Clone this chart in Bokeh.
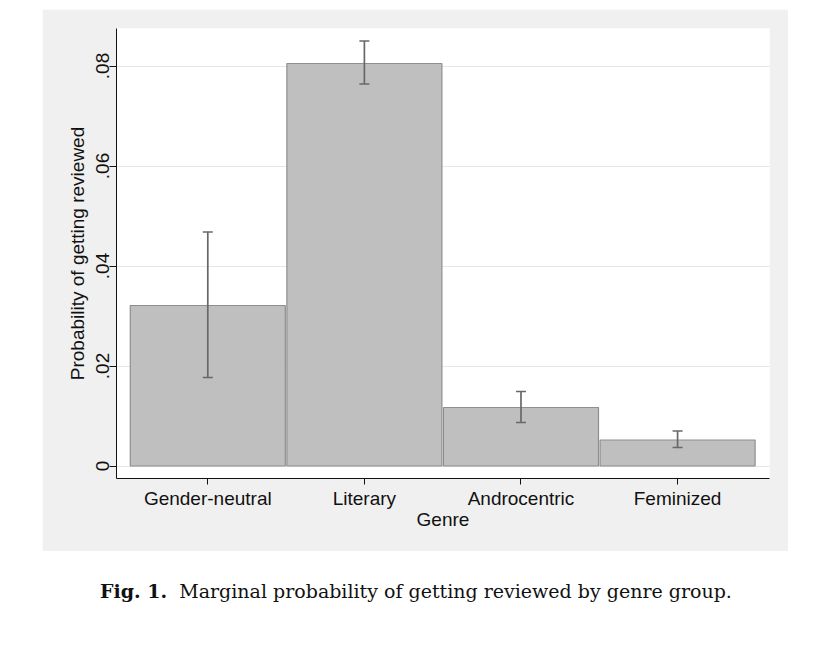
from bokeh.plotting import figure
from bokeh.models import ColumnDataSource, Whisker, TeeHead, FixedTicker, Range1d, Div, Spacer
from bokeh.layouts import column, row
from bokeh.embed import file_html
from bokeh.resources import INLINE

# ---- data ----
genres = ["Gender-neutral", "Literary", "Androcentric", "Feminized"]
prob = [0.0321, 0.0805, 0.0117, 0.0052]
ci_low = [0.0177, 0.0764, 0.0087, 0.0037]
ci_high = [0.0468, 0.0850, 0.0149, 0.0070]
y_ticks = [0, 0.02, 0.04, 0.06, 0.08]
y_tick_labels = ["0", ".02", ".04", ".06", ".08"]
x_label = "Genre"
y_label = "Probability of getting reviewed"
caption_bold = "Fig. 1."
caption_text = "Marginal probability of getting reviewed by genre group."

xpos = list(range(1, len(genres) + 1))
src = ColumnDataSource(dict(x=xpos, top=prob, lower=ci_low, upper=ci_high))

FONT = "Liberation Sans"
FS = "19px"

p = figure(width=746, height=542, output_backend="svg", toolbar_location=None,
           x_range=Range1d(0.417, 4.587), y_range=Range1d(-0.0025, 0.0875),
           min_border_left=74, min_border_right=19, min_border_top=19, min_border_bottom=73)
p.background_fill_color = "white"
p.border_fill_color = "#f0f0f0"
p.outline_line_color = None

p.vbar(x="x", top="top", bottom=0, width=0.99, source=src,
       fill_color="#bfbfbf", line_color="#8e8e8e", line_width=1.2)

w = Whisker(base="x", lower="lower", upper="upper", source=src,
            line_color="#686868", line_width=1.7, level="overlay",
            upper_head=TeeHead(size=10, line_color="#686868", line_width=1.7),
            lower_head=TeeHead(size=10, line_color="#686868", line_width=1.7))
p.add_layout(w)

# grid
p.xgrid.grid_line_color = None
p.ygrid.ticker = FixedTicker(ticks=y_ticks)
p.ygrid.grid_line_color = "#e6e6e6"
p.ygrid.grid_line_width = 1

# x axis
p.xaxis.ticker = FixedTicker(ticks=xpos)
p.xaxis.major_label_overrides = {x: g for x, g in zip(xpos, genres)}
p.xaxis.minor_tick_line_color = None
p.xaxis.major_tick_in = 0
p.xaxis.major_tick_out = 6
p.xaxis.major_label_standoff = 3
p.xaxis.major_label_text_font = FONT
p.xaxis.major_label_text_font_size = FS
p.xaxis.major_label_text_color = "#111111"
p.xaxis.axis_label = x_label
p.xaxis.axis_label_text_font = FONT
p.xaxis.axis_label_text_font_size = FS
p.xaxis.axis_label_text_font_style = "normal"
p.xaxis.axis_label_text_color = "#111111"
p.xaxis.axis_label_standoff = -3
p.xaxis.axis_line_color = "#111111"
p.xaxis.major_tick_line_color = "#111111"

# y axis
p.yaxis.ticker = FixedTicker(ticks=y_ticks)
p.yaxis.major_label_overrides = {t: l for t, l in zip(y_ticks, y_tick_labels)}
p.yaxis.major_label_orientation = "vertical"
p.yaxis.minor_tick_line_color = None
p.yaxis.major_tick_in = 0
p.yaxis.major_tick_out = 7
p.yaxis.major_label_standoff = 1
p.yaxis.major_label_text_font = FONT
p.yaxis.major_label_text_font_size = FS
p.yaxis.major_label_text_color = "#111111"
p.yaxis.axis_label = y_label
p.yaxis.axis_label_text_font = FONT
p.yaxis.axis_label_text_font_size = FS
p.yaxis.axis_label_text_font_style = "normal"
p.yaxis.axis_label_text_color = "#111111"
p.yaxis.axis_label_standoff = 5
p.yaxis.axis_line_color = "#111111"
p.yaxis.major_tick_line_color = "#111111"

caption = Div(text=f"<b>{caption_bold}</b>&nbsp; {caption_text}", width=786, height=80,
              styles={"font-family": "DejaVu Serif", "font-size": "19px", "color": "#111",
                      "text-align": "center", "padding-top": "22px", "width": "786px"})

layout = column(Spacer(height=9), row(Spacer(width=42), p), row(Spacer(width=18), caption))

open("out.html", "w").write(file_html(layout, INLINE))
